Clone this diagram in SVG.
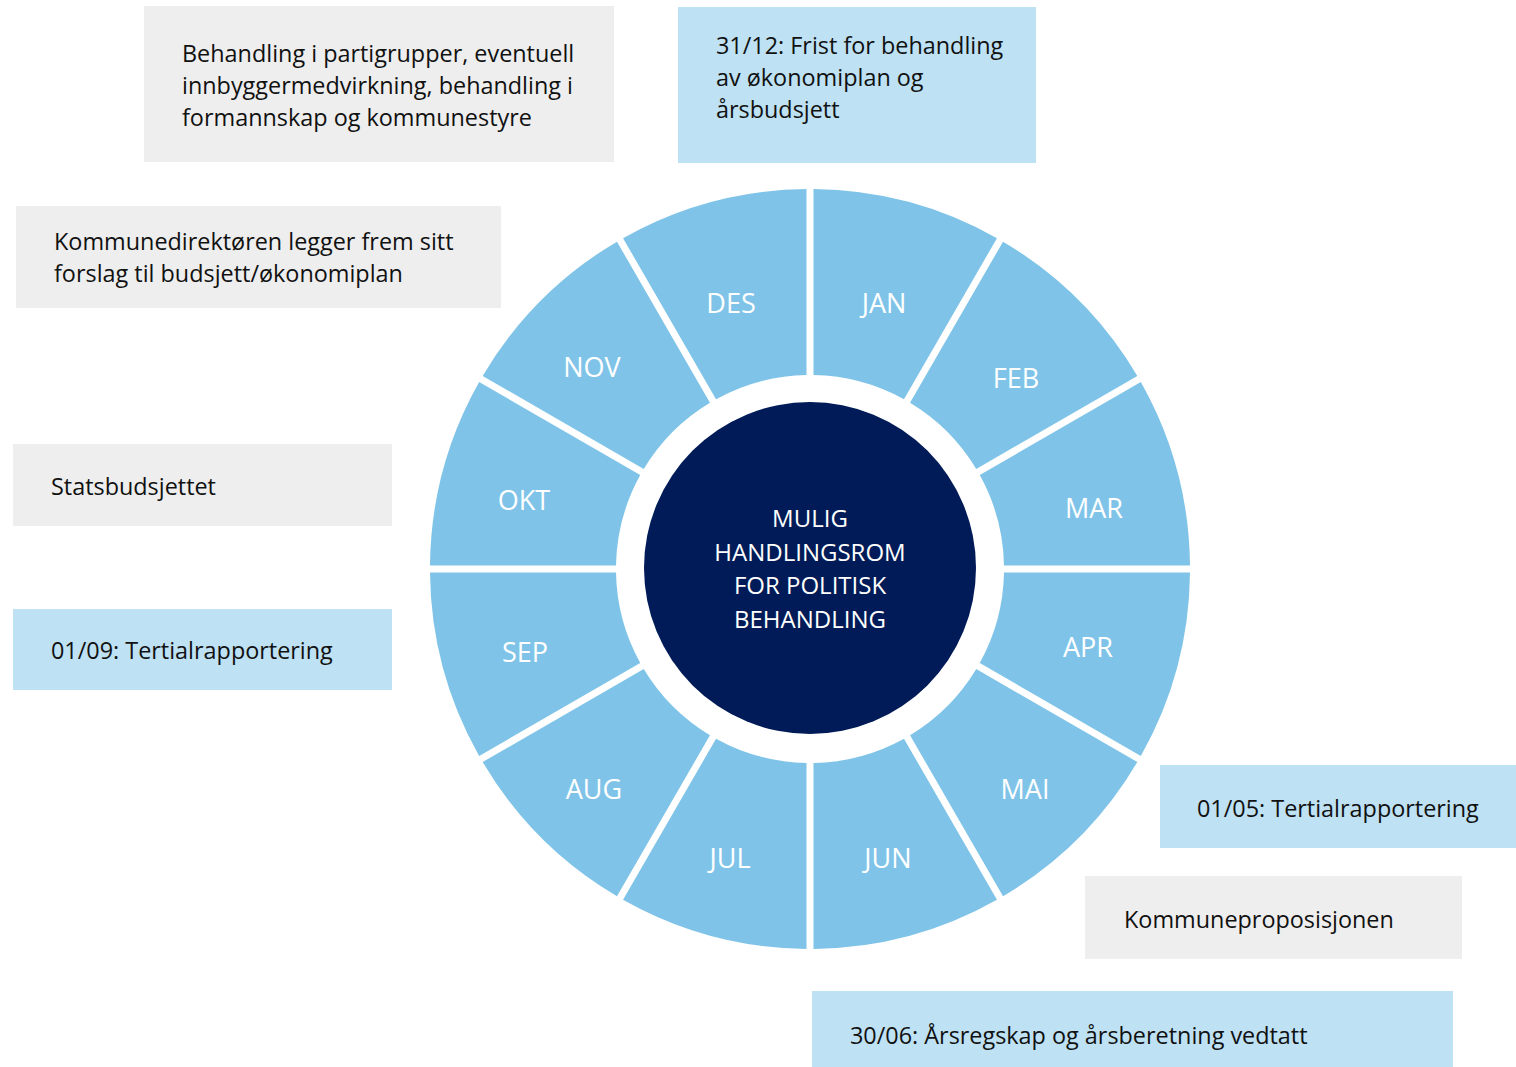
<svg xmlns="http://www.w3.org/2000/svg" width="1516" height="1067" viewBox="0 0 1516 1067">
<style>
.seg{fill:#7fc4e8}
.mlab{font-family:"Open Sans","DejaVu Sans",sans-serif;font-size:27px;fill:#ffffff;text-anchor:middle}
.ctr{font-family:"Open Sans","DejaVu Sans",sans-serif;font-size:24px;fill:#ffffff;text-anchor:middle}
.gray{fill:#eeeeee}
.lblue{fill:#bee1f4}
.btxt{font-family:"Open Sans","DejaVu Sans",sans-serif;font-size:23.4px;fill:#111111}
</style>
<rect width="1516" height="1067" fill="#ffffff"/>
<g id="wheel">
<g id="jan"><path class="seg" d="M813.5,189 A380,380 0 0 1 996.97,238.16 L903.97,399.24 A194,194 0 0 0 813.5,375 Z"/><text class="mlab" x="884" y="313">JAN</text></g>
<g id="feb"><path class="seg" d="M1003.03,241.66 A380,380 0 0 1 1137.34,375.97 L976.26,468.97 A194,194 0 0 0 910.03,402.74 Z"/><text class="mlab" x="1016" y="388">FEB</text></g>
<g id="mar"><path class="seg" d="M1140.84,382.03 A380,380 0 0 1 1190,565.5 L1004,565.5 A194,194 0 0 0 979.76,475.03 Z"/><text class="mlab" x="1094" y="518">MAR</text></g>
<g id="apr"><path class="seg" d="M1190,572.5 A380,380 0 0 1 1140.84,755.97 L979.76,662.97 A194,194 0 0 0 1004,572.5 Z"/><text class="mlab" x="1088" y="657">APR</text></g>
<g id="mai"><path class="seg" d="M1137.34,762.03 A380,380 0 0 1 1003.03,896.34 L910.03,735.26 A194,194 0 0 0 976.26,669.03 Z"/><text class="mlab" x="1025" y="799">MAI</text></g>
<g id="jun"><path class="seg" d="M996.97,899.84 A380,380 0 0 1 813.5,949 L813.5,763 A194,194 0 0 0 903.97,738.76 Z"/><text class="mlab" x="888" y="868">JUN</text></g>
<g id="jul"><path class="seg" d="M806.5,949 A380,380 0 0 1 623.03,899.84 L716.03,738.76 A194,194 0 0 0 806.5,763 Z"/><text class="mlab" x="730" y="868">JUL</text></g>
<g id="aug"><path class="seg" d="M616.97,896.34 A380,380 0 0 1 482.66,762.03 L643.74,669.03 A194,194 0 0 0 709.97,735.26 Z"/><text class="mlab" x="594" y="799">AUG</text></g>
<g id="sep"><path class="seg" d="M479.16,755.97 A380,380 0 0 1 430,572.5 L616,572.5 A194,194 0 0 0 640.24,662.97 Z"/><text class="mlab" x="525" y="662">SEP</text></g>
<g id="okt"><path class="seg" d="M430,565.5 A380,380 0 0 1 479.16,382.03 L640.24,475.03 A194,194 0 0 0 616,565.5 Z"/><text class="mlab" x="524" y="510">OKT</text></g>
<g id="nov"><path class="seg" d="M482.66,375.97 A380,380 0 0 1 616.97,241.66 L709.97,402.74 A194,194 0 0 0 643.74,468.97 Z"/><text class="mlab" x="592" y="377">NOV</text></g>
<g id="des"><path class="seg" d="M623.03,238.16 A380,380 0 0 1 806.5,189 L806.5,375 A194,194 0 0 0 716.03,399.24 Z"/><text class="mlab" x="731" y="313">DES</text></g>
</g>
<g id="center">
<circle cx="810" cy="568" r="166" fill="#001b57"/>
<text class="ctr" x="810" y="527">MULIG</text>
<text class="ctr" x="810" y="561">HANDLINGSROM</text>
<text class="ctr" x="810" y="594">FOR POLITISK</text>
<text class="ctr" x="810" y="628">BEHANDLING</text>
</g>
<g id="box-behandling"><rect class="gray" x="144" y="6" width="470" height="156"/>
<text class="btxt" x="182" y="62">Behandling i partigrupper, eventuell</text>
<text class="btxt" x="182" y="94">innbyggermedvirkning, behandling i</text>
<text class="btxt" x="182" y="126">formannskap og kommunestyre</text></g>
<g id="box-frist"><rect class="lblue" x="678" y="7" width="358" height="156"/>
<text class="btxt" x="716" y="54">31/12: Frist for behandling</text>
<text class="btxt" x="716" y="86">av økonomiplan og</text>
<text class="btxt" x="716" y="118">årsbudsjett</text></g>
<g id="box-kommunedirektoren"><rect class="gray" x="16" y="206" width="485" height="102"/>
<text class="btxt" x="54" y="250">Kommunedirektøren legger frem sitt</text>
<text class="btxt" x="54" y="282">forslag til budsjett/økonomiplan</text></g>
<g id="box-statsbudsjettet"><rect class="gray" x="13" y="444" width="379" height="82"/>
<text class="btxt" x="51" y="495">Statsbudsjettet</text></g>
<g id="box-0109"><rect class="lblue" x="13" y="609" width="379" height="81"/>
<text class="btxt" x="51" y="659">01/09: Tertialrapportering</text></g>
<g id="box-0105"><rect class="lblue" x="1160" y="765" width="356" height="83"/>
<text class="btxt" x="1197" y="817">01/05: Tertialrapportering</text></g>
<g id="box-kommuneprop"><rect class="gray" x="1085" y="876" width="377" height="83"/>
<text class="btxt" x="1124" y="928">Kommuneproposisjonen</text></g>
<g id="box-3006"><rect class="lblue" x="812" y="991" width="641" height="76"/>
<text class="btxt" x="850" y="1044">30/06: Årsregskap og årsberetning vedtatt</text></g>
<g id="connectors"></g>
</svg>
